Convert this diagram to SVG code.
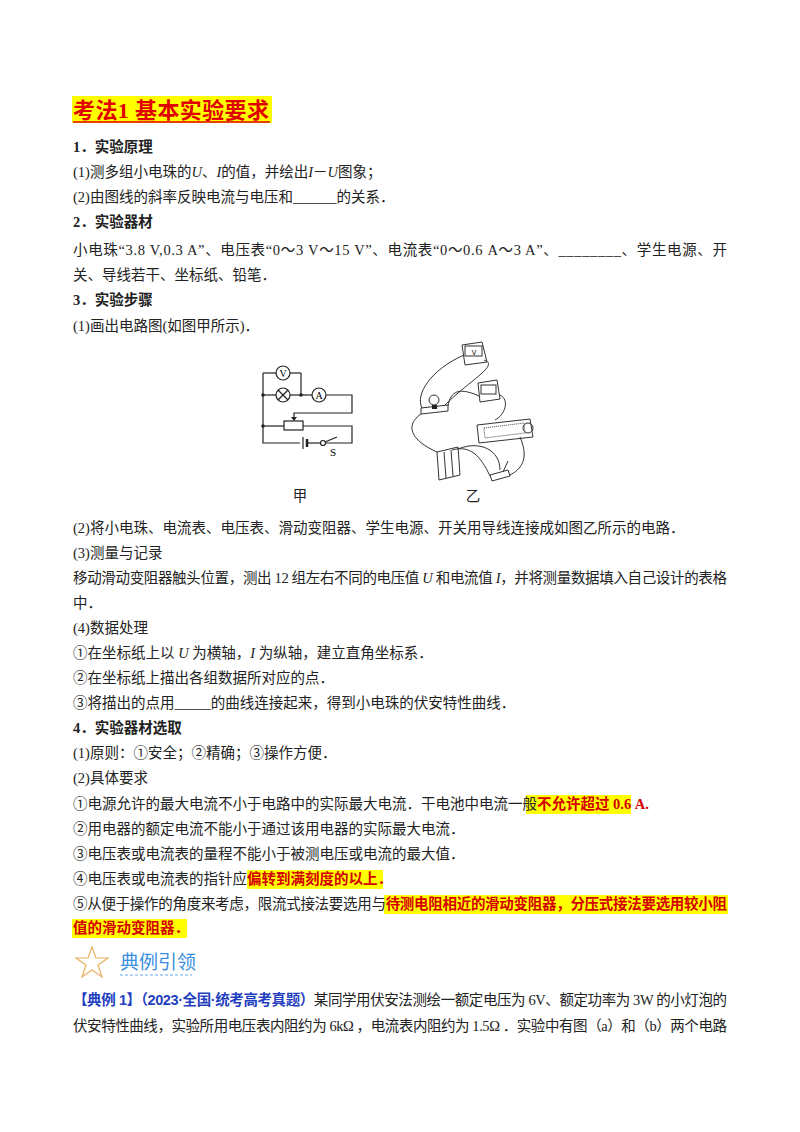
<svg xmlns="http://www.w3.org/2000/svg" width="800" height="1132" viewBox="0 0 800 1132">
<style>
.t{font-family:"Liberation Serif","Noto Sans CJK SC",serif;font-size:14.5px;fill:#222}
.b{font-weight:bold}
.hl{font-family:"Liberation Serif","Noto Sans CJK SC",serif;font-size:14.5px;font-weight:bold;fill:#d40000}
.w{fill:none;stroke:#222;stroke-width:1.2}
.p{fill:none;stroke:#333;stroke-width:1}
.blue{font-family:"Liberation Sans","Noto Sans CJK SC",sans-serif;font-size:14.5px;font-weight:bold;fill:#1f3fbf}
</style>
<rect width="800" height="1132" fill="#fff"/>
<g id="title">
<rect x="72" y="96" width="200" height="27" fill="#ffff00"/>
<text x="73" y="118" font-family="Liberation Serif,'Noto Sans CJK SC',serif" font-size="22" font-weight="bold" fill="#e00000" textLength="196" lengthAdjust="spacing">考法1  基本实验要求</text>
<line x1="73" y1="122" x2="270" y2="122" stroke="#e00000" stroke-width="1.5"/>
</g>
<g id="text">
<text class="t b" x="73" y="152">1．实验原理</text>
<text class="t" x="73" y="177">(1)测多组小电珠的<tspan font-style="italic">U</tspan>、<tspan font-style="italic">I</tspan>的值，并绘出<tspan font-style="italic">I</tspan>－<tspan font-style="italic">U</tspan>图象；</text>
<text class="t" x="73" y="202">(2)由图线的斜率反映电流与电压和______的关系．</text>
<text class="t" x="73" y="255" textLength="654" lengthAdjust="spacing">小电珠“3.8 V,0.3 A”、电压表“0～3 V～15 V”、电流表“0～0.6 A～3 A”、________、学生电源、开</text>
<text class="t b" x="73" y="227">2．实验器材</text>
<text class="t" x="73" y="280">关、导线若干、坐标纸、铅笔．</text>
<text class="t b" x="73" y="305">3．实验步骤</text>
<text class="t" x="73" y="331">(1)画出电路图(如图甲所示)．</text>
<text class="t" x="73" y="533">(2)将小电珠、电流表、电压表、滑动变阻器、学生电源、开关用导线连接成如图乙所示的电路．</text>
<text class="t" x="73" y="558">(3)测量与记录</text>
<text class="t" x="73" y="583" textLength="654" lengthAdjust="spacing">移动滑动变阻器触头位置，测出 12 组左右不同的电压值 <tspan font-style="italic">U</tspan> 和电流值 <tspan font-style="italic">I</tspan>，并将测量数据填入自己设计的表格</text>
<text class="t" x="73" y="608">中．</text>
<text class="t" x="73" y="633">(4)数据处理</text>
<text class="t" x="73" y="658">①在坐标纸上以 <tspan font-style="italic">U</tspan> 为横轴，<tspan font-style="italic">I</tspan> 为纵轴，建立直角坐标系．</text>
<text class="t" x="73" y="683">②在坐标纸上描出各组数据所对应的点．</text>
<text class="t" x="73" y="708">③将描出的点用_____的曲线连接起来，得到小电珠的伏安特性曲线．</text>
<text class="t b" x="73" y="733">4．实验器材选取</text>
<text class="t" x="73" y="758">(1)原则：①安全；②精确；③操作方便．</text>
<text class="t" x="73" y="783">(2)具体要求</text>
<rect x="526" y="795" width="105" height="19" fill="#ffff00"/>
<text class="t" x="73" y="809">①电源允许的最大电流不小于电路中的实际最大电流．干电池中电流一般<tspan class="hl">不允许超过 0.6 A.</tspan></text>
<text class="t" x="73" y="834">②用电器的额定电流不能小于通过该用电器的实际最大电流．</text>
<text class="t" x="73" y="859">③电压表或电流表的量程不能小于被测电压或电流的最大值．</text>
<rect x="247" y="870" width="136" height="19" fill="#ffff00"/>
<text class="t" x="73" y="884">④电压表或电流表的指针应<tspan class="hl">偏转到满刻度的以上．</tspan></text>
<rect x="384" y="895" width="344" height="19" fill="#ffff00"/>
<rect x="72" y="919" width="115" height="19" fill="#ffff00"/>
<text class="t" x="73" y="909" textLength="654" lengthAdjust="spacing">⑤从便于操作的角度来考虑，限流式接法要选用与<tspan class="hl">待测电阻相近的滑动变阻器，分压式接法要选用较小阻</tspan></text>
<text class="hl" x="73" y="933">值的滑动变阻器．</text>
</g>
<g id="banner">
<polygon points="92,947 96,958 108,958 98,965 102,977 92,970 82,977 86,965 76,958 88,958" fill="none" stroke="#e8b060" stroke-width="1.2"/>
<text x="120" y="969" font-family="'Noto Sans CJK SC',sans-serif" font-size="19" fill="#3a8ee0">典例引领</text>
<line x1="120" y1="975" x2="192" y2="975" stroke="#6aa8e8" stroke-width="1" stroke-dasharray="3,2"/>
</g>
<g id="example">
<text class="t" x="73" y="1005" textLength="654" lengthAdjust="spacing"><tspan class="blue">【典例 1】（2023·全国·统考高考真题）</tspan>某同学用伏安法测绘一额定电压为 6V、额定功率为 3W 的小灯泡的</text>
<text class="t" x="73" y="1031" textLength="654" lengthAdjust="spacing">伏安特性曲线，实验所用电压表内阻约为 6kΩ ，电流表内阻约为 1.5Ω ．实验中有图（a）和（b）两个电路</text>
</g>
<g id="circuit-jia">
<polyline class="w" points="263,373 263,443 300,443"/>
<line class="w" x1="263" y1="373" x2="276" y2="373"/>
<line class="w" x1="290" y1="373" x2="301" y2="373"/>
<line class="w" x1="301" y1="373" x2="301" y2="395"/>
<circle class="w" cx="283" cy="373" r="7"/>
<text x="283" y="377" font-family="Liberation Serif,serif" font-size="10" text-anchor="middle">V</text>
<line class="w" x1="263" y1="395" x2="276" y2="395"/>
<circle class="w" cx="283" cy="395" r="7"/>
<line class="w" x1="278" y1="390" x2="288" y2="400"/><line class="w" x1="288" y1="390" x2="278" y2="400"/>
<line class="w" x1="290" y1="395" x2="312" y2="395"/>
<circle class="w" cx="319" cy="395" r="7"/>
<text x="319" y="399" font-family="Liberation Serif,serif" font-size="10" text-anchor="middle">A</text>
<polyline class="w" points="326,395 352,395 352,413 294,413 294,420"/>
<polygon points="291,417 297,417 294,421" fill="#222"/>
<rect class="w" x="284" y="421" width="19" height="9"/>
<line class="w" x1="263" y1="426" x2="284" y2="426"/>
<polyline class="w" points="303,426 352,426 352,443 326,443"/>
<line class="w" x1="303" y1="437" x2="303" y2="449"/>
<line x1="307" y1="439" x2="307" y2="447" stroke="#222" stroke-width="2.5"/>
<line class="w" x1="307" y1="443" x2="320" y2="443"/>
<circle class="w" cx="323" cy="443" r="2.5"/>
<line class="w" x1="325" y1="442" x2="337" y2="437"/>
<text x="330" y="456" font-family="Liberation Serif,serif" font-size="11">S</text>
<circle cx="263" cy="395" r="1.8" fill="#222"/>
<circle cx="301" cy="395" r="1.8" fill="#222"/>
<circle cx="263" cy="426" r="1.8" fill="#222"/>
<text x="300" y="501" class="t" font-size="11" text-anchor="middle">甲</text>
</g>
<g id="circuit-yi">
<path class="p" d="M462,345 L482,342 L487,362 L465,365 Z"/>
<rect class="p" x="465" y="346" width="17" height="10"/>
<text x="474" y="355" font-family="Liberation Sans,sans-serif" font-size="7" text-anchor="middle">V</text>
<path class="p" d="M478,383 L497,380 L500,399 L480,402 Z"/>
<rect class="p" x="481" y="385" width="15" height="9"/>
<path class="p" d="M421,408 L448,405 L448,411 L421,414 Z"/>
<circle class="p" cx="434" cy="400" r="5"/>
<rect x="432" y="405" width="5" height="4" fill="#222"/>
<path class="p" d="M477,425 L530,419 L533,437 L479,443 Z"/>
<path d="M484,428 L524,423 L525,433 L485,438 Z" fill="none" stroke="#444" stroke-width="1" stroke-dasharray="1,1"/>
<circle class="p" cx="528" cy="428" r="5"/>
<path class="p" d="M437,452 L458,447 L460,475 L439,480 Z"/>
<line class="p" x1="444" y1="452" x2="446" y2="478"/><line class="p" x1="451" y1="450" x2="453" y2="476"/>
<path class="p" d="M490,475 L508,470 L510,476 L492,481 Z"/>
<line class="p" x1="503" y1="472" x2="508" y2="461"/>
<path class="p" d="M464,355 C430,370 415,395 422,408"/>
<path class="p" d="M484,360 C500,365 470,380 445,405"/>
<path class="p" d="M479,396 C455,385 450,395 448,406"/>
<path class="p" d="M500,395 C510,400 505,415 495,420"/>
<path class="p" d="M421,414 C405,425 410,440 437,452"/>
<path class="p" d="M458,449 C480,440 500,450 500,470"/>
<path class="p" d="M452,450 C470,445 480,455 490,476"/>
<path class="p" d="M520,437 C530,460 520,470 510,475"/>
<text x="473" y="501" class="t" font-size="11" text-anchor="middle">乙</text>
</g>
</svg>
